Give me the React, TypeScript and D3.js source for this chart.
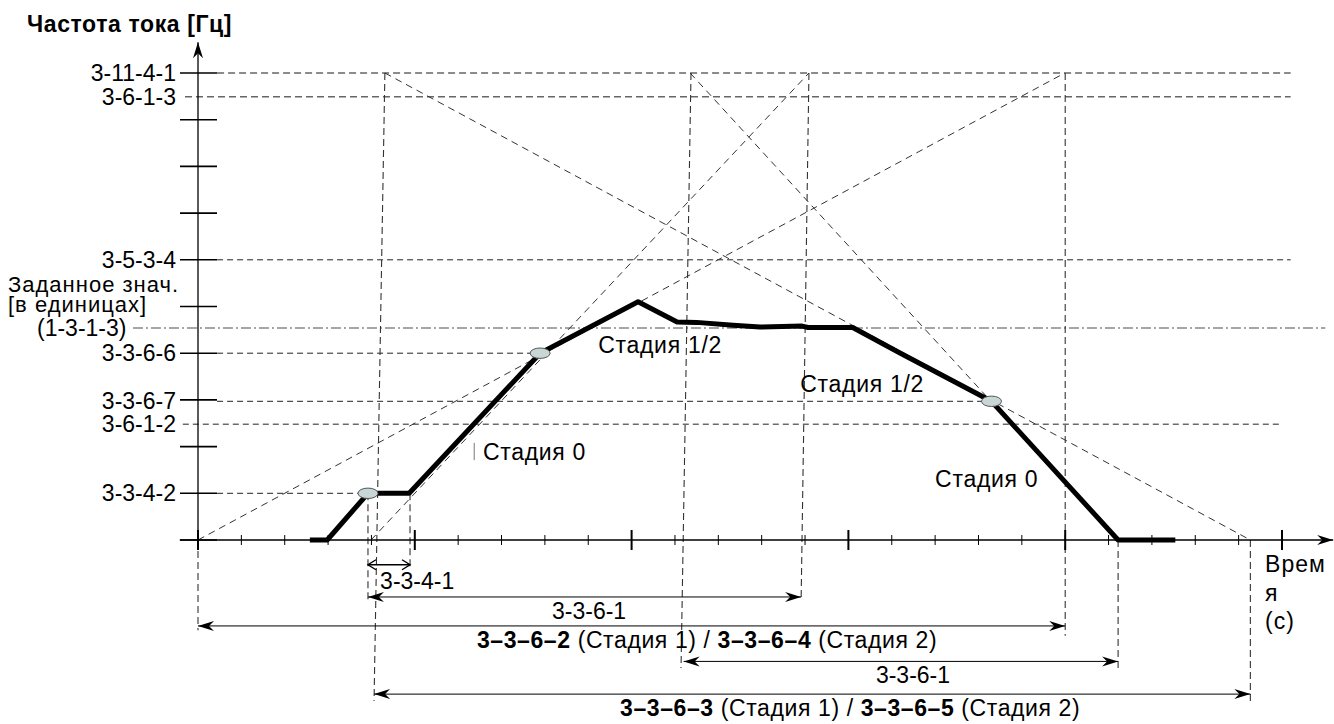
import React from 'react';
import * as d3 from 'd3';

const FONT = "'Liberation Sans', Arial, Helvetica, sans-serif";

// ---------------- data ----------------
// time axis (units of minor ticks), frequency axis (units of y ticks)
const timeTicks = [0, 1, 2, 3, 4, 5, 6, 7, 8, 9, 10, 11, 12, 13, 14, 15, 16, 17, 18, 19, 20, 21, 22, 23, 24, 25];
const freqTicks = [0, 1, 2, 3, 4, 5, 6, 7, 8, 9, 10];

const freqLabelText = ['3-11-4-1', '3-6-1-3', '3-5-3-4', '3-3-6-6', '3-3-6-7', '3-6-1-2', '3-3-4-2'];
const freqLabelValue = [10, 9.49, 6, 4, 2.97, 2.48, 1];

const setpointValue = 4.54;
const setpointLabel = ['Заданное знач.', '[в единицах]', '(1-3-1-3)'];

// dashed reference levels
const refLineValue = [10, 9.49, 6, 4, 2.97, 2.48, 1];
const refLineStart = [0.44, -0.3, 0.44, 0.44, 0.44, -0.35, 0.44];
const refLineEnd = [25.2, 25.2, 25.2, 7.89, 18.3, 24.95, 3.92];

// output frequency curve
const curveT = [2.58, 2.98, 3.92, 4.87, 7.89, 10.15, 11.05, 11.5, 12.34, 12.96, 13.93, 14.07, 15.1, 16.2, 18.3, 21.22, 22.54];
const curveV = [0, 0, 1, 1, 4, 5.1, 4.67, 4.66, 4.6, 4.56, 4.58, 4.55, 4.55, 4.0, 2.97, 0, 0];

// switching points (ellipses)
const switchT = [3.92, 7.89, 18.3];
const switchV = [1, 4, 2.97];

// dashed ramp reference lines
const rampFromT = [0, 3.99, 11.35, 4.31];
const rampFromV = [0, 0, 10, 10];
const rampToT = [19.99, 14.09, 21.22, 24.27];
const rampToV = [10, 10, 0, 0];

// dashed vertical projection lines
const dropFromT = [0, 3.92, 4.31, 4.89, 11.37, 14.09, 20.0, 21.22, 24.27];
const dropFromV = [0, 1, 10, 1, 10, 10, 10, 0, 0];
const dropToT = [0, 3.92, 4.06, 4.89, 11.14, 13.91, 20.0, 21.22, 24.27];
const dropToV = [-1.93, -1.28, -3.45, -0.64, -2.74, -1.28, -2.05, -2.74, -3.49];

// time spans (dimension arrows)
const spanFromT = [3.92, 3.92, 0, 11.2, 4.06];
const spanToT = [4.89, 13.91, 20.0, 21.22, 24.27];
const spanLevel = [-0.53, -1.22, -1.84, -2.6, -3.3];
const spanLabelT = [4.2, 9.02, 11.74, 16.49, 15.04];
const spanLabels = [
  [{ t: '3-3-4-1', b: false }],
  [{ t: '3-3-6-1', b: false }],
  [{ t: '3–3–6–2', b: true }, { t: ' (Стадия 1) / ', b: false }, { t: '3–3–6–4', b: true }, { t: ' (Стадия 2)', b: false }],
  [{ t: '3-3-6-1', b: false }],
  [{ t: '3–3–6–3', b: true }, { t: ' (Стадия 1) / ', b: false }, { t: '3–3–6–5', b: true }, { t: ' (Стадия 2)', b: false }],
];

// stage annotations
const stageText = ['Стадия 1/2', 'Стадия 1/2', 'Стадия 0', 'Стадия 0'];
const stageT = [9.23, 13.89, 6.57, 17.0];
const stageV = [4.0, 3.17, 1.71, 1.13];

const yTitle = 'Частота тока [Гц]';
const xTitle = ['Врем', 'я', '(с)'];

export default function App() {
  const x = d3.scaleLinear().domain([0, 25]).range([198, 1282]);
  const y = d3.scaleLinear().domain([0, 10]).range([540, 73]);
  const line = d3.line<[number, number]>().x(d => x(d[0])).y(d => y(d[1]));
  const curve: [number, number][] = curveT.map((t, i) => [t, curveV[i]]);
  const x0 = x(0);
  const y0 = y(0);

  return (
    <svg width={1334} height={724} style={{ position: 'absolute', left: 0, top: 0 }} fontFamily={FONT}>
      <defs>
        <marker id="ah" markerUnits="userSpaceOnUse" viewBox="-17 -6 18 12" refX="0" refY="0"
          markerWidth="18" markerHeight="12" orient="auto-start-reverse">
          <path d="M0,0 L-16,-5 L-11,0 L-16,5 Z" fill="#000" />
        </marker>
        <marker id="ao" markerUnits="userSpaceOnUse" viewBox="-10 -7 12 14" refX="0" refY="0"
          markerWidth="12" markerHeight="14" orient="auto-start-reverse">
          <path d="M-8,-5 L0,0 L-8,5" fill="none" stroke="#000" strokeWidth={1.4} />
        </marker>
      </defs>
      <rect width={1334} height={724} fill="#fff" />

      {/* title */}
      <text x={27} y={32} fontSize={23} fontWeight="bold" letterSpacing={0.6}>{yTitle}</text>

      {/* reference horizontal dashed lines */}
      {refLineValue.map((v, i) => (
        <line key={'r' + i} x1={x(refLineStart[i])} x2={x(refLineEnd[i])} y1={y(v)} y2={y(v)}
          stroke={i < 2 ? '#666' : '#222'} strokeWidth={i < 2 ? 1.5 : 1} strokeDasharray={i < 2 ? '7 4' : '6 4'} />
      ))}

      {/* setpoint dash-dot */}
      <line x1={x(-1.5)} x2={x(26.0)} y1={y(setpointValue)} y2={y(setpointValue)}
        stroke="#888" strokeWidth={1.3} strokeDasharray="10 3 2 3" />

      {/* ramp dashed diagonals */}
      {rampFromT.map((t, i) => (
        <line key={'d' + i} x1={x(t)} y1={y(rampFromV[i])} x2={x(rampToT[i])} y2={y(rampToV[i])}
          stroke="#333" strokeWidth={1} strokeDasharray="7 5" />
      ))}

      {/* vertical dashed projections */}
      {dropFromT.map((t, i) => (
        <line key={'v' + i} x1={x(t)} y1={y(dropFromV[i])} x2={x(dropToT[i])} y2={y(dropToV[i])}
          stroke="#333" strokeWidth={1.1} strokeDasharray="7 4" />
      ))}

      {/* y axis */}
      <line x1={x0} x2={x0} y1={y0} y2={y(10.66)} stroke="#000" strokeWidth={1.3} markerEnd="url(#ah)" />
      {freqTicks.map(v => (
        <line key={'yt' + v} x1={x0 - 18} x2={x0 + 19} y1={y(v)} y2={y(v)} stroke="#000" strokeWidth={1.6} />
      ))}

      {/* x axis */}
      <line x1={x(-0.42)} x2={x(26.18)} y1={y0} y2={y0} stroke="#000" strokeWidth={1.3} markerEnd="url(#ah)" />
      {timeTicks.map(t => {
        const major = t % 5 === 0;
        return (
          <line key={'xt' + t} x1={x(t)} x2={x(t)} y1={y0 - (major ? 10 : 5)} y2={y0 + (major ? 10 : 5)}
            stroke="#000" strokeWidth={major ? 2 : 1} />
        );
      })}

      {/* frequency curve */}
      <path d={line(curve) || ''} fill="none" stroke="#000" strokeWidth={5} strokeLinejoin="round" />

      {/* switching points */}
      {switchT.map((t, i) => (
        <ellipse key={'e' + i} cx={x(t)} cy={y(switchV[i])} rx={10} ry={5.2} fill="#c9d6d6" stroke="#555" strokeWidth={1} />
      ))}

      {/* y labels */}
      {freqLabelText.map((s, i) => (
        <text key={'yl' + i} x={176} y={y(freqLabelValue[i]) + 8} fontSize={23} textAnchor="end">{s}</text>
      ))}
      <text x={8} y={292} fontSize={22} letterSpacing={1}>{setpointLabel[0]}</text>
      <text x={8} y={312} fontSize={22} letterSpacing={1}>{setpointLabel[1]}</text>
      <text x={37} y={y(setpointValue) + 8} fontSize={23}>{setpointLabel[2]}</text>

      {/* span arrows */}
      {spanFromT.map((t, i) => (
        <g key={'s' + i}>
          <line x1={x(t)} x2={x(spanToT[i])} y1={y(spanLevel[i])} y2={y(spanLevel[i])}
            stroke="#000" strokeWidth={i === 0 ? 1.4 : 1}
            markerStart={i === 0 ? 'url(#ao)' : 'url(#ah)'} markerEnd={i === 0 ? 'url(#ao)' : 'url(#ah)'} />
          <text x={x(spanLabelT[i])} y={y(spanLevel[i]) + (i === 0 ? 24 : 22)} fontSize={23}
            textAnchor={i === 0 ? 'start' : 'middle'} letterSpacing={i === 2 || i === 4 ? 0.6 : 0}>
            {spanLabels[i].map((p, j) => (
              <tspan key={j} fontWeight={p.b ? 'bold' : 'normal'}>{p.t}</tspan>
            ))}
          </text>
        </g>
      ))}

      {/* stage labels */}
      {stageText.map((s, i) => (
        <text key={'st' + i} x={x(stageT[i])} y={y(stageV[i])} fontSize={23} letterSpacing={0.7}>{s}</text>
      ))}
      <line x1={x(6.37)} x2={x(6.37)} y1={y(2.08)} y2={y(1.71)} stroke="#777" strokeWidth={1} />

      {/* x axis title */}
      {xTitle.map((s, i) => (
        <text key={'xl' + i} x={x(24.61)} y={572 + i * 28.5} fontSize={23} letterSpacing={1}>{s}</text>
      ))}
    </svg>
  );
}
